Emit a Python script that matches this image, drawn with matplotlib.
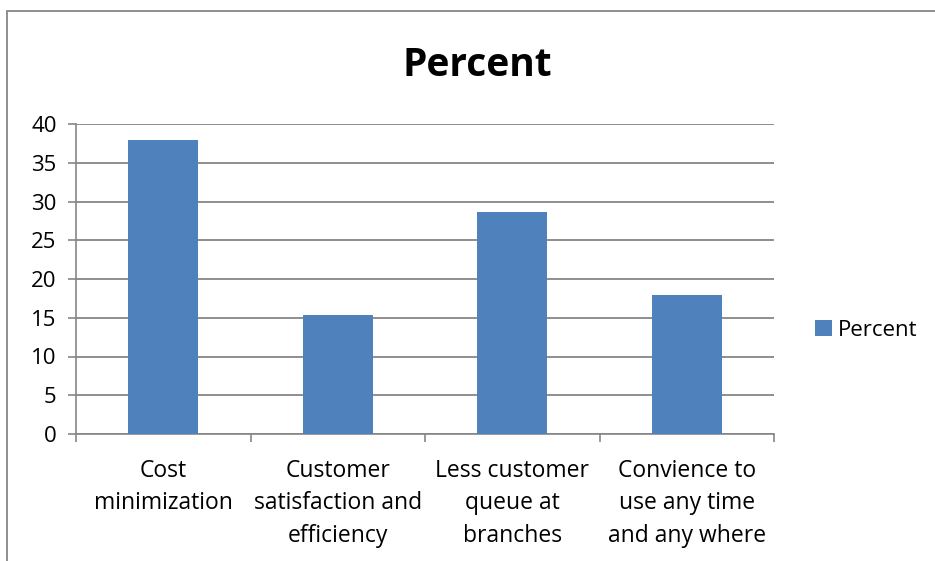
import matplotlib.pyplot as plt
import numpy as np
from matplotlib.patches import Rectangle

categories = ["Cost\nminimization", "Customer\nsatisfaction and\nefficiency",
              "Less customer\nqueue at\nbranches", "Convience to\nuse any time\nand any where"]
percent = [38.0, 15.4, 28.6, 18.0]
yticks = [0, 5, 10, 15, 20, 25, 30, 35, 40]

plt.rcParams['font.family'] = ['Open Sans', 'DejaVu Sans']
bar_color = '#4F81BD'
grid_color = '#868686'

fig = plt.figure(figsize=(9.35, 5.61), dpi=100)
fig.patch.set_facecolor('white')
# outer chart frame
fig.patches.append(Rectangle((6.5 / 935, -0.1), 1.2, 1.1 - 11 / 561, transform=fig.transFigure,
                             fill=False, edgecolor=grid_color, linewidth=1.3))

ax = fig.add_axes([76 / 935, 1 - 434 / 561, (774 - 76) / 935, (434 - 124) / 561])
index = np.arange(len(categories))
ax.bar(index, percent, 0.4, color=bar_color, label='Percent', zorder=3)

ax.set_xlim(-0.5, len(categories) - 0.5)
ax.set_ylim(0, 40)
ax.set_yticks(yticks)
ax.tick_params(axis='y', labelsize=16, length=6, color=grid_color, width=1.2, pad=8)
ax.yaxis.grid(True, color=grid_color, linewidth=1.3, zorder=0)

ax.set_xticks(index)
ax.set_xticklabels(categories, fontsize=16.5, linespacing=1.47)
ax.tick_params(axis='x', length=0, pad=18)
ax.set_xticks(np.arange(len(categories) + 1) - 0.5, minor=True)
ax.tick_params(axis='x', which='minor', length=6, color=grid_color, width=1.2)

for s in ['top', 'right']:
    ax.spines[s].set_visible(False)
ax.spines['left'].set_color(grid_color)
ax.spines['bottom'].set_color(grid_color)
ax.spines['left'].set_linewidth(1.2)
ax.spines['bottom'].set_linewidth(1.2)

fig.text(0.511, 1 - 65 / 561, 'Percent', ha='center', va='center', fontsize=28, fontweight='bold')

ax.legend(loc='center left', bbox_to_anchor=(1.03, 0.335), frameon=False, fontsize=16,
          handlelength=0.75, handleheight=0.75, handletextpad=0.3)

fig.savefig('out.png', dpi=100)
